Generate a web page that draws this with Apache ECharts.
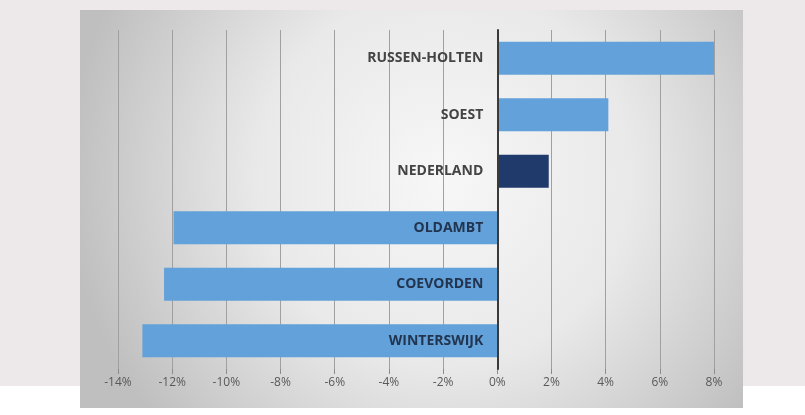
<!DOCTYPE html>
<html>
<head>
<meta charset="utf-8">
<script src="https://cdn.jsdelivr.net/npm/echarts@6/dist/echarts.min.js"></script>
<style>
  html, body { margin: 0; padding: 0; background: #ffffff; }
  #chart { width: 805px; height: 415px; }
</style>
</head>
<body>
<div id="chart"></div>
<script>
// gemeenten, van onder naar boven (category as)
const categories = ['WINTERSWIJK', 'COEVORDEN', 'OLDAMBT', 'NEDERLAND', 'SOEST', 'RUSSEN-HOLTEN'];
const values = [-13.1, -12.3, -11.95, 1.9, 4.1, 8.0];
const highlight = 'NEDERLAND';
const tickMin = -14;
const tickMax = 8;
const tickStep = 2;

const gridLeft = 118;
const gridRight = 91;
const gridWidth = 805 - gridLeft - gridRight;
// y-as labels naast de 0-lijn
const zeroOffset = -(0 - tickMin) / (tickMax - tickMin) * gridWidth;

const chart = echarts.init(document.getElementById('chart'));

const option = {
    backgroundColor: '#ede9ea',
    animation: false,
    graphic: [
        // wit strookje onderaan
        { type: 'rect', z: -10, shape: { x: 0, y: 386, width: 805, height: 29 }, style: { fill: '#ffffff' } },
        // grijs paneel met verloop
        {
            type: 'rect', z: -9,
            shape: { x: 80, y: 10, width: 663, height: 398 },
            style: {
                fill: new echarts.graphic.RadialGradient(0.55, 0.42, 0.95, [
                    { offset: 0, color: '#f7f7f7' },
                    { offset: 0.5, color: '#e9e9e9' },
                    { offset: 1, color: '#bfbfbf' }
                ])
            }
        }
    ],
    grid: { left: gridLeft, right: gridRight, top: 30, bottom: 46, containLabel: false },
    xAxis: {
        type: 'value',
        min: tickMin,
        max: tickMax,
        interval: tickStep,
        axisLine: { show: false },
        axisTick: { show: true, length: 5, lineStyle: { color: '#8c8c8c' } },
        splitLine: { show: true, lineStyle: { color: '#a0a0a0', width: 1 } },
        axisLabel: {
            margin: 8,
            fontFamily: 'Open Sans',
            fontSize: 12,
            color: '#595959',
            formatter: v => v + '%'
        }
    },
    yAxis: {
        type: 'category',
        data: categories,
        z: 10,
        offset: zeroOffset,
        axisLine: { show: true, onZero: false, lineStyle: { color: '#3a3a3a', width: 2 } },
        axisTick: { show: false },
        splitLine: { show: false },
        axisLabel: {
            margin: 14,
            fontFamily: 'Open Sans',
            fontWeight: 'bold',
            fontSize: 14,
            color: (v, i) => values[i] < 0 ? '#23344f' : '#444444'
        }
    },
    series: [{
        type: 'bar',
        data: values.map((v, i) => ({
            value: v,
            itemStyle: { color: categories[i] === highlight ? '#1f3a6b' : '#62a1d9' }
        })),
        barCategoryGap: '42%',
        silent: true
    }]
};

chart.setOption(option);
</script>
</body>
</html>
